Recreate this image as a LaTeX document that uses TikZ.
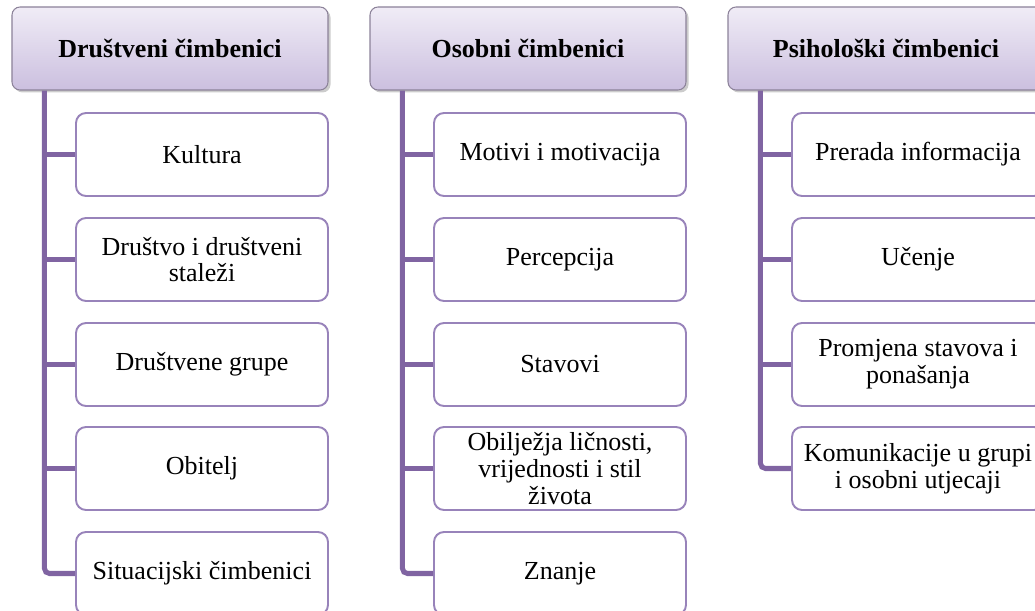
\documentclass[tikz,border=0pt]{standalone}
\usepackage{fontspec}
\setmainfont{Liberation Serif}
\usetikzlibrary{shadows}

\definecolor{spinepurple}{HTML}{8064A2}
\definecolor{itemline}{HTML}{9883BA}
\definecolor{headline}{HTML}{8C8299}
\definecolor{headtop}{HTML}{F0ECF6}
\definecolor{headbot}{HTML}{CBBFDF}

\begin{document}
\begin{tikzpicture}[
	headbox/.style={draw=headline, line width=0.6pt, rounded corners=0.16cm,
		top color=headtop, bottom color=headbot,
		minimum width=6.32cm, minimum height=1.66cm, inner sep=0pt,
		font=\fontsize{14.8}{15.2}\selectfont\bfseries,
		drop shadow={opacity=0.4, shadow xshift=0.05cm, shadow yshift=-0.05cm}},
	itembox/.style={draw=itemline, line width=1.1pt, fill=white, rounded corners=0.2cm,
		minimum width=5.04cm, minimum height=1.66cm, inner sep=0pt, align=center,
		font=\fontsize{14.8}{15.2}\selectfont},
	spine/.style={draw=spinepurple, line width=2.85pt, rounded corners=0.1cm}
	]
			%\draw [help lines] (0,0) grid (21,-13);
			\clip (0,0) rectangle (20.7,-12.22);
			
			% headers
			\node [headbox] (h1) at (3.40,-0.97) {Društveni čimbenici};
			\node [headbox] (h2) at (10.56,-0.97) {Osobni čimbenici};
			\node [headbox] (h3) at (17.72,-0.97) {Psihološki čimbenici};
			
			% first column
			\node [itembox] (a1) at (4.04,-3.09) {Kultura};
			\node [itembox] (a2) at (4.04,-5.19) {Društvo i društveni\\staleži};
			\node [itembox] (a3) at (4.04,-7.29) {Društvene grupe};
			\node [itembox] (a4) at (4.04,-9.37) {Obitelj};
			\node [itembox] (a5) at (4.04,-11.47) {Situacijski čimbenici};
			
			% second column
			\node [itembox] (b1) at (11.20,-3.09) {Motivi i motivacija};
			\node [itembox] (b2) at (11.20,-5.19) {Percepcija};
			\node [itembox] (b3) at (11.20,-7.29) {Stavovi};
			\node [itembox] (b4) at (11.20,-9.37) {Obilježja ličnosti,\\vrijednosti i stil\\života};
			\node [itembox] (b5) at (11.20,-11.47) {Znanje};
			
			% third column
			\node [itembox] (c1) at (18.36,-3.09) {Prerada informacija};
			\node [itembox] (c2) at (18.36,-5.19) {Učenje};
			\node [itembox] (c3) at (18.36,-7.29) {Promjena stavova i\\ponašanja};
			\node [itembox] (c4) at (18.36,-9.37) {Komunikacije u grupi\\i osobni utjecaji};
			
			\coordinate (s1) at ([xshift=0.66cm]h1.south west);
			\coordinate (s2) at ([xshift=0.66cm]h2.south west);
			\coordinate (s3) at ([xshift=0.66cm]h3.south west);
			
			\draw [spine] (s1) |- (a5.west);
			\draw [spine] (s1 |- a1.west) -- (a1.west);
			\draw [spine] (s1 |- a2.west) -- (a2.west);
			\draw [spine] (s1 |- a3.west) -- (a3.west);
			\draw [spine] (s1 |- a4.west) -- (a4.west);
			
			\draw [spine] (s2) |- (b5.west);
			\draw [spine] (s2 |- b1.west) -- (b1.west);
			\draw [spine] (s2 |- b2.west) -- (b2.west);
			\draw [spine] (s2 |- b3.west) -- (b3.west);
			\draw [spine] (s2 |- b4.west) -- (b4.west);
			
			\draw [spine] (s3) |- (c4.west);
			\draw [spine] (s3 |- c1.west) -- (c1.west);
			\draw [spine] (s3 |- c2.west) -- (c2.west);
			\draw [spine] (s3 |- c3.west) -- (c3.west);
	\end{tikzpicture}
\end{document}
